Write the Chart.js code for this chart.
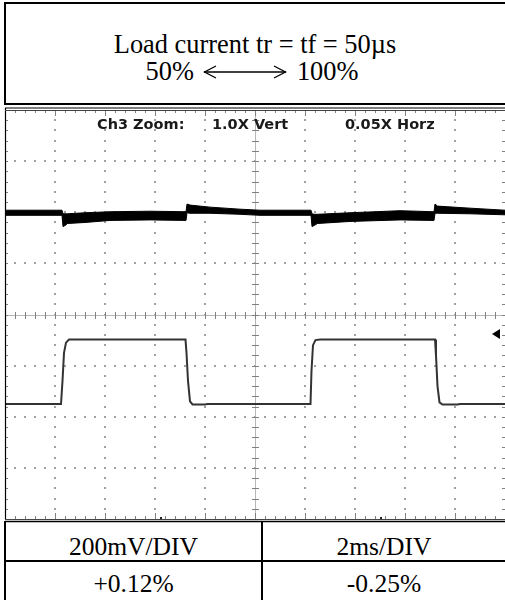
<!DOCTYPE html>
<html>
<head>
<meta charset="utf-8">
<script src="https://cdn.jsdelivr.net/npm/chart.js@4.4.0/dist/chart.umd.min.js"></script>
<style>
  html, body { margin: 0; padding: 0; background: #fff; }
  body { position: relative; width: 505px; height: 600px; overflow: hidden; }
  .serif { font-family: "Liberation Serif", "Times New Roman", serif; color: #000; }
  .scopeText { position: absolute; font-family: "DejaVu Sans", sans-serif; font-size: 14.5px; font-weight: bold; line-height: 15px; color: #1a1a1a; z-index: 2; white-space: pre; }
  #titleBox { position: absolute; left: 4px; top: 2px; width: 600px; height: 99px; border: 2px solid #000; }
  #title { position: absolute; left: 0; top: 31px; width: 510px; text-align: center; font-size: 26.4px; line-height: 26.7px; }
  #title .line2 { width: 504px; }
  #scope { position: absolute; left: 0; top: 0; z-index: 1; pointer-events: none; }
  .rule { position: absolute; background: #000; }
  .cell { position: absolute; text-align: center; font-size: 25.5px; line-height: 25.5px; }
</style>
</head>
<body>

<div id="titleBox"></div>
<div id="title" class="serif">
  <div>Load current tr = tf = 50µs</div>
  <div class="line2">50%<svg width="84" height="14" viewBox="0 0 84 14" style="margin:0 10px 0 9px; vertical-align:1px"><line x1="1" y1="7" x2="83" y2="7" stroke="#000" stroke-width="1.3"/><polyline points="13,1 1.5,7 13,13" fill="none" stroke="#000" stroke-width="1.3"/><polyline points="71,1 82.5,7 71,13" fill="none" stroke="#000" stroke-width="1.3"/></svg>100%</div>
</div>

<div class="scopeText" style="left:97px; top:117px">Ch3 Zoom:</div>
<div class="scopeText" style="left:212px; top:117px">1.0X Vert</div>
<div class="scopeText" style="left:345px; top:117px">0.05X Horz</div>

<canvas id="scope" width="505" height="600"></canvas>

<!-- settings table under the screen -->
<div class="rule" style="left:4px; top:521px; width:2px; height:80px"></div>
<div class="rule" style="left:4px; top:560px; width:520px; height:2px"></div>
<div class="rule" style="left:261px; top:521px; width:2px; height:80px"></div>
<div class="cell serif" style="left:6px; top:534px; width:255px">200mV/DIV</div>
<div class="cell serif" style="left:263px; top:534px; width:242px">2ms/DIV</div>
<div class="cell serif" style="left:6px; top:571px; width:255px">+0.12%</div>
<div class="cell serif" style="left:263px; top:571px; width:242px">-0.25%</div>

<script>
// screen layout: 10 x 8 divisions, 2 ms per division
var horzDivs = 10;
var vertDivs = 8;
var msPerDiv = 2;

// output voltage (Ch3), noisy band: upper and lower edge, in divisions
var outTime  = [0, 2.28, 2.32, 2.40, 2.5, 3.2, 4.2, 5.8, 7.24, 7.28, 7.4, 8.2, 9.4, 10.2,
                12.24, 12.28, 12.36, 12.5, 13.8, 15.8, 17.16, 17.2, 17.3, 18.6, 20];
var outUpper = [2.04, 2.04, 1.97, 1.97, 1.97, 1.99, 2.01, 2.02, 2.01, 2.16, 2.14, 2.10, 2.06, 2.04,
                2.04, 1.97, 1.96, 1.96, 1.99, 2.03, 2.01, 2.16, 2.12, 2.08, 2.04];
var outLower = [1.94, 1.94, 1.72, 1.74, 1.78, 1.80, 1.84, 1.85, 1.84, 1.99, 1.98, 1.98, 1.96, 1.94,
                1.94, 1.72, 1.74, 1.78, 1.82, 1.85, 1.84, 1.98, 1.98, 1.97, 1.95];

// load current step 50% <-> 100%, in divisions
var loadTime  = [0, 2.24, 2.30, 2.36, 2.44, 2.56, 7.22, 7.26, 7.32, 7.40, 7.50, 8.0, 8.1,
                 12.22, 12.26, 12.32, 12.42, 12.6, 17.2, 17.24, 17.3, 17.38, 17.5, 18.1, 18.2, 20];
var loadLevel = [-1.75, -1.75, -1.30, -0.75, -0.55, -0.49, -0.49, -0.75, -1.30, -1.70, -1.76, -1.76, -1.75,
                 -1.75, -1.10, -0.60, -0.50, -0.49, -0.49, -0.80, -1.40, -1.72, -1.76, -1.76, -1.75, -1.75];

var triggerLevel = -0.38;
var markerTimes = [6.24, 15.04];

function toPoints(xs, ys) {
    var pts = [];
    for (var i = 0; i < xs.length; i++) {
        pts.push({ x: xs[i], y: ys[i] });
    }
    return pts;
}

// dotted graticule, centre cross and edge ticks
var graticule = {
    id: 'graticule',
    beforeDatasetsDraw: function(chart) {
        var ctx = chart.ctx;
        var a = chart.chartArea;
        var xs = chart.scales.x;
        var ys = chart.scales.y;
        var i, j, px, py;
        ctx.save();

        ctx.fillStyle = '#a0a0a0';
        for (i = 1; i < horzDivs; i++) {
            if (i === horzDivs / 2) continue;
            px = Math.round(xs.getPixelForValue(i * msPerDiv));
            for (j = 1; j < vertDivs * 5; j++) {
                py = Math.round(ys.getPixelForValue(-vertDivs / 2 + j * 0.2));
                ctx.fillRect(px - 1, py - 1, 2, 2);
            }
        }
        for (j = 1; j < vertDivs; j++) {
            if (j === vertDivs / 2) continue;
            py = Math.round(ys.getPixelForValue(-vertDivs / 2 + j));
            for (i = 1; i < horzDivs * 5; i++) {
                px = Math.round(xs.getPixelForValue(i * 0.2 * msPerDiv));
                ctx.fillRect(px - 1, py - 1, 2, 2);
            }
        }

        // centre lines
        var cx = Math.round(xs.getPixelForValue(horzDivs / 2 * msPerDiv)) + 0.5;
        var cy = Math.round(ys.getPixelForValue(0)) + 0.5;
        ctx.strokeStyle = '#b8b8b8';
        ctx.lineWidth = 1;
        ctx.beginPath();
        ctx.moveTo(cx, a.top); ctx.lineTo(cx, a.bottom);
        ctx.moveTo(a.left, cy); ctx.lineTo(a.right, cy);
        ctx.stroke();

        ctx.strokeStyle = '#808080';
        ctx.beginPath();
        for (j = 1; j < vertDivs * 5; j++) {
            py = Math.round(ys.getPixelForValue(-vertDivs / 2 + j * 0.2)) + 0.5;
            ctx.moveTo(cx - 3.5, py); ctx.lineTo(cx + 3.5, py);
            ctx.moveTo(a.left, py); ctx.lineTo(a.left + 3, py);
            ctx.moveTo(a.right, py); ctx.lineTo(a.right - 3, py);
        }
        for (i = 1; i < horzDivs * 5; i++) {
            px = Math.round(xs.getPixelForValue(i * 0.2 * msPerDiv)) + 0.5;
            var len = (i % 5 === 0) ? 6 : 3;
            ctx.moveTo(px, cy - 3.5); ctx.lineTo(px, cy + 3.5);
            ctx.moveTo(px, a.top); ctx.lineTo(px, a.top + len);
            ctx.moveTo(px, a.bottom); ctx.lineTo(px, a.bottom - len);
        }
        ctx.stroke();
        ctx.restore();
    },
    afterDraw: function(chart) {
        var ctx = chart.ctx;
        var a = chart.chartArea;
        var ys = chart.scales.y;
        var xs = chart.scales.x;
        ctx.save();

        // screen frame
        ctx.strokeStyle = '#000';
        ctx.lineWidth = 1.2;
        ctx.beginPath();
        ctx.moveTo(a.left, a.top - 2); ctx.lineTo(a.right, a.top - 2);
        ctx.moveTo(a.left + 0.5, a.top - 2); ctx.lineTo(a.left + 0.5, a.bottom);
        ctx.stroke();
        ctx.strokeStyle = '#444';
        ctx.lineWidth = 1;
        ctx.beginPath();
        ctx.moveTo(a.left, a.top + 0.5); ctx.lineTo(a.right, a.top + 0.5);
        ctx.moveTo(a.left, a.bottom + 0.5); ctx.lineTo(a.right, a.bottom + 0.5);
        ctx.stroke();
        ctx.strokeStyle = '#000';
        ctx.lineWidth = 1.5;
        ctx.beginPath();
        ctx.moveTo(a.left, a.bottom + 2.5); ctx.lineTo(a.right, a.bottom + 2.5);
        ctx.stroke();

        // trigger level arrow
        var ty = ys.getPixelForValue(triggerLevel);
        ctx.fillStyle = '#000';
        ctx.beginPath();
        ctx.moveTo(a.right - 13, ty);
        ctx.lineTo(a.right - 5, ty - 5);
        ctx.lineTo(a.right - 5, ty + 5);
        ctx.closePath();
        ctx.fill();

        // small markers on the bottom edge
        ctx.fillStyle = '#222';
        markerTimes.forEach(function(t) {
            var mx = Math.round(xs.getPixelForValue(t));
            ctx.fillRect(mx - 1, a.bottom - 2, 2, 2);
        });
        ctx.restore();
    }
};

var ctx = document.getElementById('scope').getContext('2d');
var scopeChart = new Chart(ctx, {
    type: 'line',
    data: {
        datasets: [{
            label: 'Vout upper',
            data: toPoints(outTime, outUpper),
            borderColor: '#000',
            borderWidth: 1,
            pointRadius: 0,
            fill: false
        }, {
            label: 'Vout lower',
            data: toPoints(outTime, outLower),
            borderColor: '#000',
            borderWidth: 1,
            pointRadius: 0,
            backgroundColor: '#000',
            fill: '-1'
        }, {
            label: 'Load current',
            data: toPoints(loadTime, loadLevel),
            borderColor: '#333',
            borderWidth: 2,
            pointRadius: 0,
            fill: false
        }]
    },
    options: {
        responsive: false,
        animation: false,
        layout: { autoPadding: false, padding: { left: 5, right: 0, top: 110, bottom: 81 } },
        scales: {
            x: { type: 'linear', min: 0, max: horzDivs * msPerDiv, display: false },
            y: { type: 'linear', min: -vertDivs / 2, max: vertDivs / 2, display: false }
        },
        plugins: {
            legend: { display: false },
            tooltip: { enabled: false }
        }
    },
    plugins: [graticule]
});
</script>
</body>
</html>
